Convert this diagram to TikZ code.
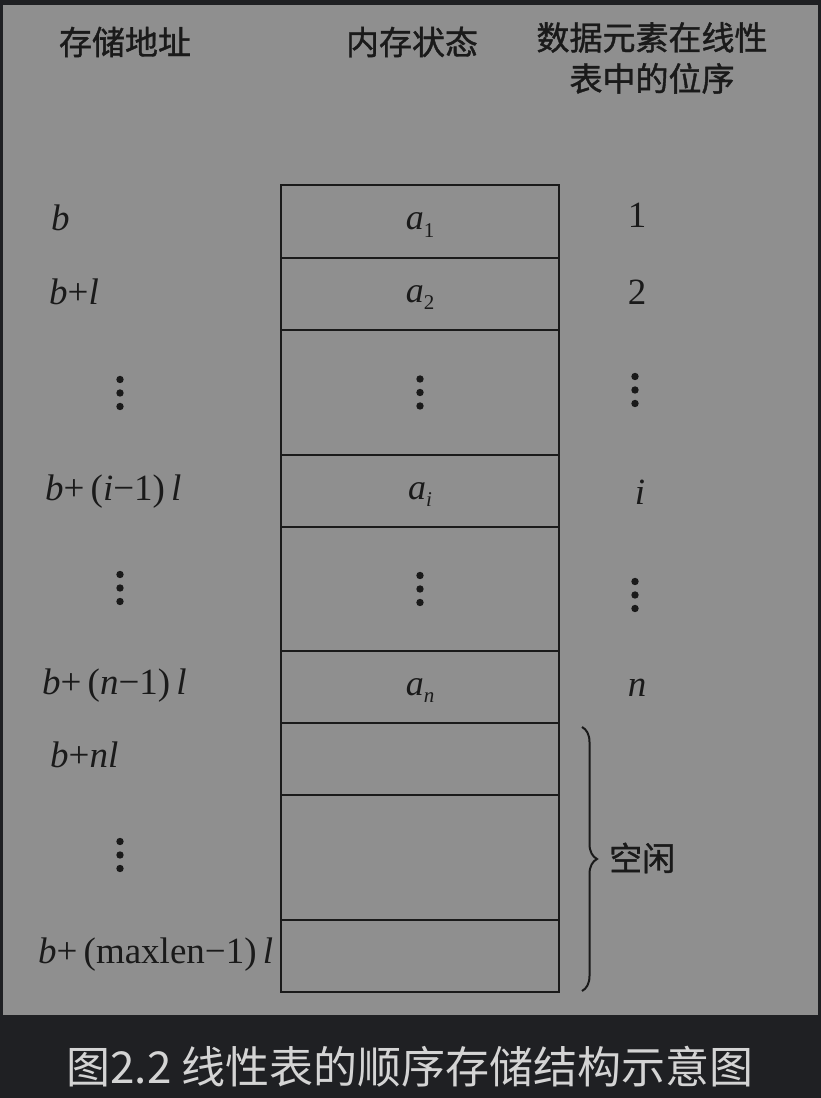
\documentclass[tikz,border=0pt]{standalone}
\usepackage{fontspec}
\setmainfont{Liberation Serif}
\newfontfamily\cjk{Noto Sans CJK SC}
\newfontfamily\cjkhead[FakeBold=1.2]{Noto Sans CJK SC}
\usetikzlibrary{decorations.pathreplacing}
\definecolor{bgdark}{HTML}{1F2023}
\definecolor{panelgray}{HTML}{8F8F8F}
\definecolor{inkdark}{HTML}{1A1A1A}
\definecolor{captiongray}{HTML}{D4D4D4}
\newcommand{\itl}[1]{\textit{#1}}
\newcommand{\lowsub}[1]{\raisebox{-0.45ex}{\fontsize{21}{21}\selectfont #1}}

\begin{document}
\begin{tikzpicture}[x=1pt,y=1pt,
  cellstyle/.style={draw=inkdark,line width=2.6pt,minimum width=278,inner sep=0,text height=26pt,text depth=9pt,text=inkdark,font=\fontsize{36}{40}\selectfont},
  labelstyle/.style={text=inkdark,font=\fontsize{37}{40}\selectfont,inner sep=0},
  headstyle/.style={text=inkdark,font=\cjkhead\fontsize{33}{41}\selectfont,inner sep=0,align=center},
  vdotpic/.pic={\fill[inkdark] (0,13.5) circle (3.7); \fill[inkdark] (0,0) circle (3.7); \fill[inkdark] (0,-13.5) circle (3.7);}]
\useasboundingbox (0,0) rectangle (821,1098);
\fill [bgdark] (0,0) rectangle (821,1098);
\fill [panelgray] (3,83) rectangle (818,1093);
% headings
       \node [headstyle] (hAddr) at (125,1056) {存储地址};
       \node [headstyle] (hMem) at (412,1056) {内存状态};
       \node [headstyle,anchor=north] (hPos) at (652,1076) {数据元素在线性\\表中的位序};
% memory cells
       \node [cellstyle,minimum height=73] (c1) at (420,876.5) {\itl{a}\lowsub{1}};
       \node [cellstyle,minimum height=72] (c2) at (420,804) {\itl{a}\lowsub{2}};
       \node [cellstyle,minimum height=125] (c3) at (420,705.5) {};
       \node [cellstyle,minimum height=72] (c4) at (420,607) {\itl{a}\lowsub{\itl{i}}};
       \node [cellstyle,minimum height=124] (c5) at (420,509) {};
       \node [cellstyle,minimum height=72] (c6) at (420,411) {\itl{a}\lowsub{\itl{n}}};
       \node [cellstyle,minimum height=72] (c7) at (420,339) {};
       \node [cellstyle,minimum height=125] (c8) at (420,240.5) {};
       \node [cellstyle,minimum height=72] (c9) at (420,142) {};
       \pic at (c3) {vdotpic};
       \pic at (c5) {vdotpic};
% addresses
       \node [labelstyle,anchor=west] (a1) at (51,880) {\itl{b}};
       \node [labelstyle,anchor=west] (a2) at (49,806) {\itl{b}+\itl{l}};
       \pic at (120,705) {vdotpic};
       \node [labelstyle,anchor=west] (ai) at (45,606) {\itl{b}+\,(\itl{i}−1)\,\itl{l}};
       \pic at (120,510) {vdotpic};
       \node [labelstyle,anchor=west] (an) at (42,412) {\itl{b}+\,(\itl{n}−1)\,\itl{l}};
       \node [labelstyle,anchor=west] (anl) at (50,343) {\itl{b}+\itl{nl}};
       \pic at (120,243) {vdotpic};
       \node [labelstyle,anchor=west] (amax) at (38,143) {\itl{b}+\,(maxlen−1)\,\itl{l}};
% positions
       \node [labelstyle] (p1) at (637,883) {1};
       \node [labelstyle] (p2) at (637,806) {2};
       \pic at (635,708) {vdotpic};
       \node [labelstyle] (pi) at (640,606) {\itl{i}};
       \pic at (635,503) {vdotpic};
       \node [labelstyle] (pn) at (637,410) {\itl{n}};
% free part
\coordinate (braceTop) at (582,371);
\coordinate (braceBot) at (582,107);
\draw [inkdark,line width=2pt,decorate,decoration={brace,amplitude=15}] (braceTop)--(braceBot) ;
       \node [headstyle,anchor=west] (free) at (609,240) {空闲};
% caption
       \node [font=\cjk\fontsize{44}{50}\selectfont,text=captiongray,inner sep=0] (cap) at (410,31) {图2.2 线性表的顺序存储结构示意图};
\end{tikzpicture}
\end{document}
